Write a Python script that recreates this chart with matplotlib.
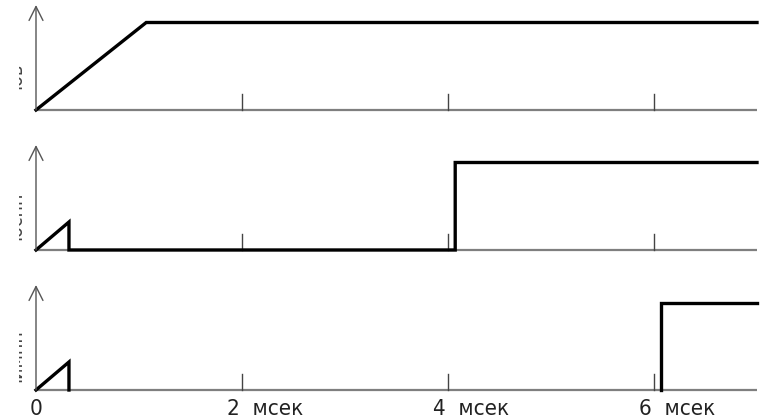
import matplotlib
matplotlib.use("Agg")
import matplotlib.pyplot as plt
from matplotlib.transforms import Bbox, TransformedBbox

# time axis, msec
t_max = 7
tick_pos = [2, 4, 6]
tick_labels = ["2  мсек", "4  мсек", "6  мсек"]

# panel signals, drawn as separate pieces (time, level)
sig1 = [([0, 1.07, 7], [0, 1, 1])]
sig2 = [([0, 0.32, 0.32, 4.07, 4.07, 7], [0, 0.32, 0, 0, 1, 1])]
sig3 = [([0, 0.32, 0.32], [0, 0.32, 0]), ([6.07, 6.07, 7], [0, 1, 1])]
labels = ["Iов", "Iоснн", "Iимпн"]

W, H = 764, 420
fig = plt.figure(figsize=(W / 100, H / 100), dpi=100)
font = dict(family="DejaVu Sans", stretch="condensed")

x0, x1 = 36, 757
baselines = [110, 250, 390]
top_h = 105
grey = "#7f7f7f"

for base, sig, lab in zip(baselines, [sig1, sig2, sig3], labels):
    ax = fig.add_axes([x0 / W, 1 - base / H, (x1 - x0) / W, top_h / H])
    ax.set_xlim(0, t_max)
    ax.set_ylim(0, 1.2)
    ax.axis("off")
    ax.plot([0, t_max], [0, 0], color=grey, lw=1.6, clip_on=False, solid_capstyle="butt")
    ax.annotate("", xy=(0, 1.2), xytext=(0, 0),
                arrowprops=dict(arrowstyle="->,head_length=1.0,head_width=0.5",
                                color="#555555", lw=1.0, shrinkA=0, shrinkB=0),
                annotation_clip=False)
    for tp in tick_pos:
        ax.plot([tp, tp], [0, 0.18], color="#444444", lw=1.0, clip_on=False)
    for t, y in sig:
        ax.plot(t, y, color="black", lw=2.4, clip_on=False, solid_joinstyle="miter")
    txt = fig.text(25 / W, 1 - (base - 34) / H, lab, rotation=90, ha="right",
                   va="center", fontsize=14, color="#444444", **font)
    txt.set_clip_box(TransformedBbox(Bbox([[19 / W, 0], [1, 1]]), fig.transFigure))
    txt.set_clip_on(True)

ax.text(0, -0.1, "0", ha="center", va="top", fontsize=16, color="#222222",
        clip_on=False, **font)
for tp, tl in zip(tick_pos, tick_labels):
    ax.text(tp - 0.15, -0.1, tl, ha="left", va="top", fontsize=16, color="#222222",
            clip_on=False, **font)

fig.savefig("out.png", dpi=100)
